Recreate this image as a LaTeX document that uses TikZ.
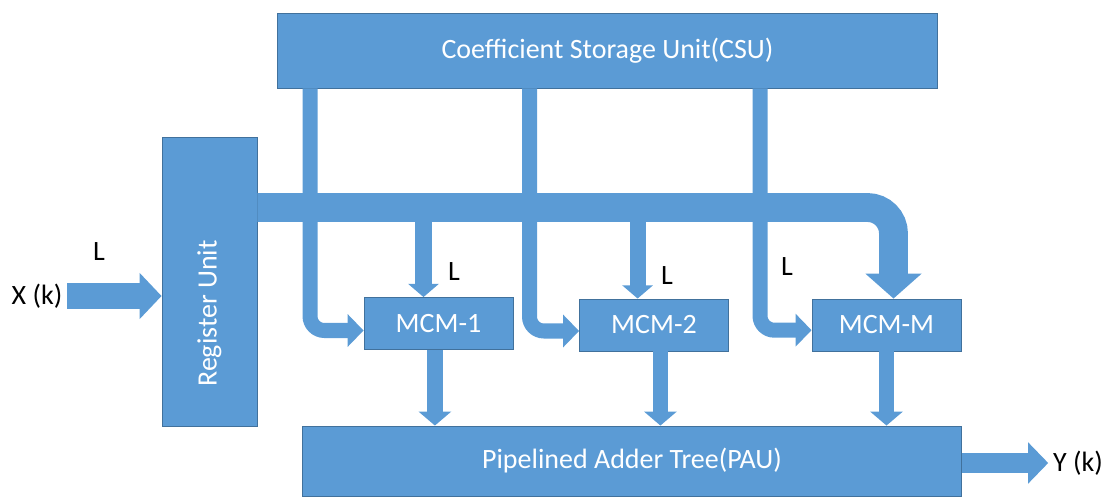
\documentclass[tikz,border=0pt]{standalone}
\usepackage{fontspec}
\setmainfont{Carlito}
\usetikzlibrary{arrows.meta}
\definecolor{blockblue}{HTML}{5B9BD5}
\definecolor{blockedge}{HTML}{41719C}

\begin{document}
\begin{tikzpicture}[x=0.025cm, y=-0.025cm,
    every node/.style={font=\fontsize{19.9}{24}\selectfont},
    unit/.style={rectangle, draw=blockedge, fill=blockblue, text=white, line width=0.6pt, inner sep=0pt},
    inarrow/.style={draw=blockblue, line width=0.625cm, -{Triangle[length=0.55cm, width=1.125cm]}},
    bus/.style={draw=blockblue, line width=0.72cm, rounded corners=0.65cm, -{Triangle[length=0.625cm, width=1.375cm]}},
    branch/.style={draw=blockblue, line width=0.4cm, -{Triangle[length=0.33cm, width=0.75cm]}},
    feed/.style={draw=blockblue, line width=0.375cm, rounded corners=0.36cm, -{Triangle[length=0.4cm, width=0.8cm]}},
    outarr/.style={draw=blockblue, line width=0.38cm, -{Triangle[length=0.35cm, width=0.8cm]}},
    outbig/.style={draw=blockblue, line width=0.48cm, -{Triangle[length=0.5cm, width=1cm]}}]
    \useasboundingbox (0,0) rectangle (1111,497);

    \node[unit, minimum width=16.475cm, minimum height=1.875cm] (csu) at (607.5,50.5) {Coefficient Storage Unit(CSU)};
    \node[unit, minimum width=2.375cm, minimum height=7.225cm] (reg) at (209.5,281.5) {\rotatebox{90}{Register Unit\hspace*{1.6cm}}};

    \node[unit, minimum width=3.725cm, minimum height=1.3cm] (mcm1) at (438.5,323.5) {MCM-1};
    \node[unit, minimum width=3.725cm, minimum height=1.3cm] (mcm2) at (654,325) {MCM-2};
    \node[unit, minimum width=3.725cm, minimum height=1.3cm] (mcmM) at (886.5,325) {MCM-M};

    \node[unit, minimum width=16.45cm, minimum height=1.75cm] (pau) at (632,461) {Pipelined Adder Tree(PAU)};

    \node (xk) at (37,296) {X (k)};
    \node (yk) at (1078,463) {Y (k)};
    \node (lin) at (99,252) {L};
    \node (l1) at (454,272) {L};
    \node (l2) at (667,276) {L};
    \node (lM) at (787,267) {L};

    \coordinate (busin) at (reg.east |- 0,207.5);

    \draw[inarrow] (xk.east) -- (xk.east -| reg.west);

    \draw[feed] (csu.south -| 310,0) |- ([yshift=-0.175cm]mcm1.west);
    \draw[feed] (csu.south -| 529.5,0) |- ([yshift=-0.15cm]mcm2.west);
    \draw[feed] (csu.south -| 760,0) |- ([yshift=-0.13cm]mcmM.west);

    \draw[branch] ([xshift=-0.375cm]mcm1.north |- busin) -- ([xshift=-0.375cm]mcm1.north);
    \draw[branch] ([xshift=-0.41cm]mcm2.north |- busin) -- ([xshift=-0.41cm]mcm2.north);
    \draw[bus] (busin) -| ([xshift=0.175cm]mcmM.north);

    \draw[outarr] ([xshift=-0.09cm]mcm1.south) -- ([xshift=-0.09cm]mcm1.south |- pau.north);
    \draw[outarr] ([xshift=0.16cm]mcm2.south) -- ([xshift=0.16cm]mcm2.south |- pau.north);
    \draw[outarr] (mcmM.south) -- (mcmM.south |- pau.north);

    \draw[outbig] (pau.east |- yk.west) -- (yk.west);
\end{tikzpicture}
\end{document}
